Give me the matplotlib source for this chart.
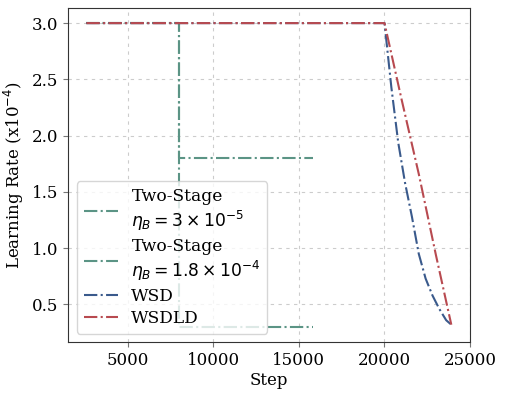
import numpy as np
import matplotlib
matplotlib.use('Agg')
import matplotlib.pyplot as plt

plt.rcParams['font.family'] = 'DejaVu Serif'
plt.rcParams['mathtext.fontset'] = 'dejavusans'

# two-stage schedules (step, lr x1e-4)
ts1_steps = [2600, 8000, 8000, 15800]
ts1_lr = [3.0, 3.0, 0.3, 0.3]
ts2_steps = [2600, 8000, 8000, 15800]
ts2_lr = [3.0, 3.0, 1.8, 1.8]

# WSD (exponential-looking decay)
wsd_steps = [2600, 20000, 20400, 20800, 21200, 21600, 22000, 22400, 22800, 23200, 23600, 23900]
wsd_lr = [3.0, 3.0, 2.43, 1.94, 1.58, 1.28, 0.95, 0.73, 0.58, 0.46, 0.36, 0.32]

# WSDLD (near-linear decay)
wsdld_steps = [2600, 20000, 21000, 22000, 23000, 23900]
wsdld_lr = [3.0, 3.0, 2.32, 1.66, 0.94, 0.32]

green = '#5b9485'
blue = '#3a5a8c'
red = '#b84a50'

fig = plt.figure(figsize=(5.05, 3.96), dpi=100)
ax = fig.add_axes([0.135, 0.136, 0.796, 0.844])

ax.plot(ts1_steps, ts1_lr, color=green, ls='-.', lw=1.5,
        label='Two-Stage\n$\\eta_B = 3\\times10^{-5}$')
ax.plot(ts2_steps, ts2_lr, color=green, ls='-.', lw=1.5,
        label='Two-Stage\n$\\eta_B = 1.8\\times10^{-4}$')
ax.plot(wsd_steps, wsd_lr, color=blue, ls='-.', lw=1.5, label='WSD')
ax.plot(wsdld_steps, wsdld_lr, color=red, ls='-.', lw=1.5, label='WSDLD')

ax.set_xticks([5000, 10000, 15000, 20000, 25000])
ax.set_yticks([0.5, 1.0, 1.5, 2.0, 2.5, 3.0])
ax.tick_params(labelsize=12, color='#777777', length=3.5)
ax.set_xlabel('Step', fontsize=12, labelpad=2)
ax.set_ylabel('Learning Rate (x10$^{-4}$)', fontsize=12, labelpad=4)
ax.grid(True, ls=(0, (3, 4)), color='#cccccc', lw=0.8)
for s in ax.spines.values():
    s.set_color('#333333')

ax.legend(loc='lower left', fontsize=12.3, handlelength=2.0, framealpha=0.8,
          borderpad=0.4, labelspacing=0.3, handletextpad=0.8)

fig.savefig('out.png', dpi=100)
